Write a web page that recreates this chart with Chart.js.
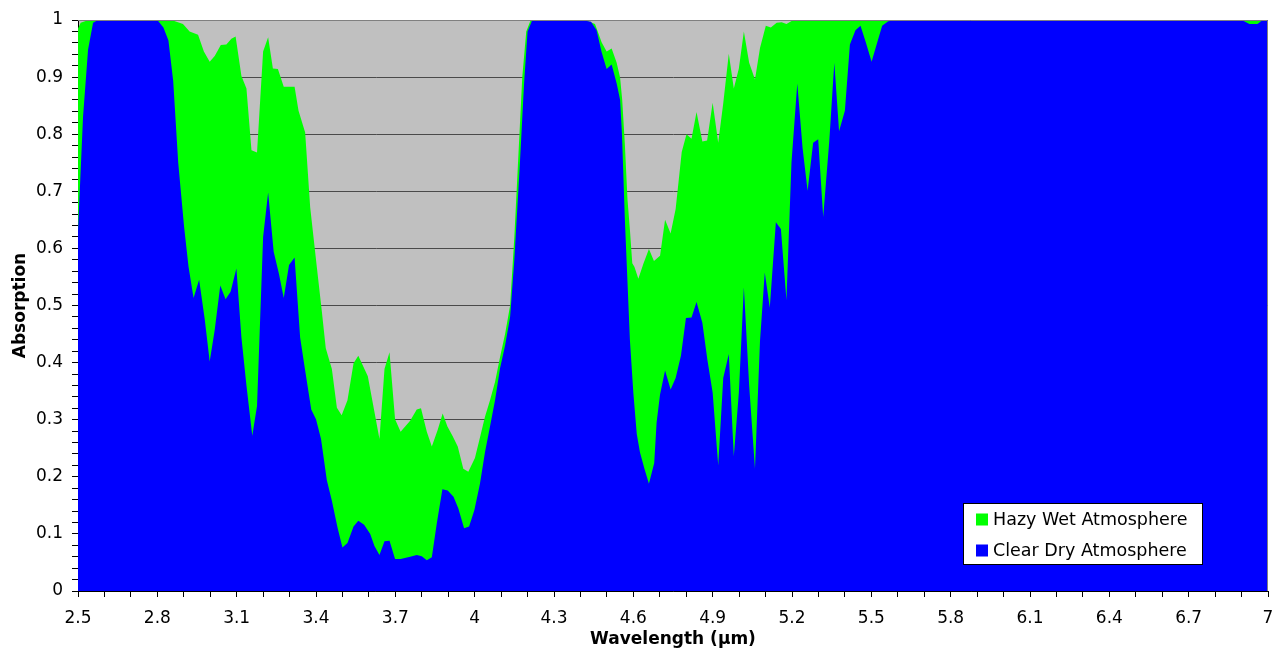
<!DOCTYPE html>
<html>
<head>
<meta charset="utf-8">
<script src="https://cdn.jsdelivr.net/npm/chart.js@4.4.1/dist/chart.umd.min.js"></script>
<style>
  html, body { margin: 0; padding: 0; background: #fff; }
  #wrap { width: 1275px; height: 651px; }
</style>
</head>
<body>
<div id="wrap"><canvas id="absChart" width="1275" height="651"></canvas></div>
<script>
// wavelength (um) / absorption
const hazyX = [2.5, 2.51, 2.54, 2.853, 2.897, 2.922, 2.954, 2.976, 2.998, 3.017, 3.040, 3.061, 3.080, 3.096,
  3.118, 3.137, 3.156, 3.177, 3.200, 3.219, 3.237, 3.256, 3.278, 3.319, 3.334, 3.359, 3.378, 3.403, 3.422,
  3.437, 3.460, 3.479, 3.497, 3.519, 3.542, 3.560, 3.596, 3.640, 3.659, 3.678, 3.699, 3.720, 3.756, 3.781,
  3.797, 3.819, 3.838, 3.860, 3.879, 3.897, 3.916, 3.936, 3.957, 3.976, 4.001, 4.020, 4.039, 4.058, 4.077,
  4.096, 4.115, 4.134, 4.150, 4.165, 4.180, 4.195, 4.212, 4.417, 4.455, 4.470, 4.480, 4.499, 4.518, 4.537,
  4.550, 4.558, 4.568, 4.578, 4.587, 4.596, 4.604, 4.619, 4.638, 4.659, 4.678, 4.701, 4.720, 4.741, 4.760,
  4.783, 4.801, 4.820, 4.839, 4.861, 4.879, 4.900, 4.921, 4.940, 4.961, 4.980, 4.999, 5.018, 5.038, 5.060,
  5.079, 5.101, 5.120, 5.142, 5.161, 5.179, 5.205, 7.0];
const hazyY = [0.985, 0.995, 1.0, 1.0, 0.993, 0.980, 0.974, 0.945, 0.927, 0.937, 0.956, 0.957, 0.967, 0.971,
  0.902, 0.880, 0.772, 0.768, 0.945, 0.970, 0.915, 0.914, 0.883, 0.883, 0.841, 0.803, 0.672, 0.568, 0.490,
  0.425, 0.389, 0.321, 0.308, 0.334, 0.399, 0.412, 0.376, 0.266, 0.389, 0.418, 0.301, 0.279, 0.298, 0.318,
  0.320, 0.279, 0.253, 0.282, 0.311, 0.288, 0.272, 0.253, 0.214, 0.209, 0.233, 0.269, 0.305, 0.334, 0.366,
  0.41, 0.45, 0.50, 0.62, 0.76, 0.90, 0.98, 1.0, 1.0, 0.993, 0.974, 0.961, 0.945, 0.950, 0.925,
  0.899, 0.860, 0.782, 0.685, 0.633, 0.574, 0.568, 0.547, 0.573, 0.599, 0.578, 0.587, 0.650, 0.626, 0.669,
  0.769, 0.800, 0.792, 0.839, 0.787, 0.789, 0.855, 0.785, 0.854, 0.941, 0.880, 0.915, 0.980, 0.925, 0.896,
  0.951, 0.990, 0.987, 0.995, 0.996, 0.993, 1.0, 1.0];

const clearX = [2.5, 2.519, 2.538, 2.557, 2.576, 2.800, 2.823, 2.842, 2.860, 2.879, 2.901, 2.918, 2.937, 2.958,
  2.979, 2.998, 3.017, 3.038, 3.058, 3.077, 3.099, 3.118, 3.137, 3.159, 3.177, 3.200, 3.219, 3.240, 3.260,
  3.278, 3.298, 3.319, 3.340, 3.359, 3.382, 3.400, 3.419, 3.441, 3.460, 3.482, 3.500, 3.519, 3.542, 3.560,
  3.582, 3.605, 3.621, 3.640, 3.659, 3.678, 3.699, 3.720, 3.756, 3.781, 3.800, 3.819, 3.838, 3.857, 3.878,
  3.898, 3.920, 3.938, 3.960, 3.979, 3.999, 4.020, 4.039, 4.058, 4.077, 4.096, 4.115, 4.134, 4.150, 4.170,
  4.187, 4.200, 4.218, 4.400, 4.440, 4.461, 4.480, 4.499, 4.518, 4.537, 4.550, 4.557, 4.568, 4.578, 4.587,
  4.600, 4.613, 4.625, 4.642, 4.659, 4.679, 4.688, 4.701, 4.720, 4.741, 4.760, 4.780, 4.799, 4.820, 4.839,
  4.861, 4.880, 4.900, 4.921, 4.940, 4.961, 4.980, 4.999, 5.018, 5.038, 5.060, 5.079, 5.097, 5.116, 5.139,
  5.158, 5.179, 5.198, 5.220, 5.240, 5.259, 5.280, 5.299, 5.318, 5.341, 5.360, 5.378, 5.400, 5.419, 5.440,
  5.459, 5.479, 5.501, 5.520, 5.541, 5.564, 5.608, 6.9, 6.93, 6.96, 6.98, 7.0];
const clearY = [0.63, 0.83, 0.948, 0.995, 1.0, 1.0, 0.987, 0.964, 0.893, 0.750, 0.639, 0.568, 0.513, 0.545,
  0.477, 0.402, 0.457, 0.535, 0.511, 0.524, 0.565, 0.444, 0.360, 0.272, 0.324, 0.620, 0.698, 0.594, 0.555,
  0.513, 0.571, 0.584, 0.444, 0.386, 0.318, 0.301, 0.266, 0.194, 0.158, 0.110, 0.076, 0.084, 0.113, 0.123,
  0.116, 0.100, 0.079, 0.063, 0.087, 0.088, 0.056, 0.056, 0.060, 0.063, 0.061, 0.054, 0.059, 0.119, 0.178,
  0.176, 0.165, 0.145, 0.110, 0.113, 0.142, 0.188, 0.243, 0.288, 0.334, 0.39, 0.43, 0.48, 0.58, 0.74,
  0.89, 0.98, 1.0, 1.0, 0.997, 0.982, 0.944, 0.914, 0.922, 0.889, 0.860, 0.80, 0.65, 0.54, 0.44,
  0.347, 0.275, 0.243, 0.214, 0.188, 0.224, 0.295, 0.344, 0.386, 0.353, 0.373, 0.412, 0.478, 0.479, 0.506,
  0.470, 0.405, 0.347, 0.220, 0.373, 0.415, 0.236, 0.347, 0.532, 0.360, 0.214, 0.438, 0.558, 0.496, 0.646,
  0.634, 0.509, 0.750, 0.889, 0.776, 0.701, 0.785, 0.791, 0.655, 0.788, 0.925, 0.805, 0.841, 0.957, 0.982,
  0.990, 0.961, 0.927, 0.957, 0.990, 0.998, 1.0, 1.0, 0.993, 0.993, 1.0, 1.0];

const seriesNames = ['Hazy Wet Atmosphere', 'Clear Dry Atmosphere'];
const xMin = 2.5, xMax = 7;

const toPoints = (xs, ys) => xs.map((x, i) => ({ x: x, y: ys[i] }));

// grey plot background + top/right border
const plotBg = {
    id: 'plotBg',
    beforeDraw(chart) {
        const { ctx, chartArea: a } = chart;
        ctx.save();
        ctx.fillStyle = '#C0C0C0';
        ctx.fillRect(a.left, a.top, a.right - a.left, a.bottom - a.top);
        ctx.restore();
    },
    afterDatasetsDraw(chart) {
        const { ctx, chartArea: a } = chart;
        ctx.save();
        ctx.strokeStyle = '#808080';
        ctx.lineWidth = 1;
        ctx.beginPath();
        ctx.moveTo(a.left, a.top + 0.5);
        ctx.lineTo(a.right - 0.5, a.top + 0.5);
        ctx.lineTo(a.right - 0.5, a.bottom);
        ctx.stroke();
        ctx.restore();
    }
};

// legend box inside the plot, bottom right
const boxLegend = {
    id: 'boxLegend',
    afterDraw(chart) {
        const { ctx, chartArea: a } = chart;
        const w = 240, h = 62;
        const x0 = Math.round(a.right - 65 - w), y0 = Math.round(a.bottom - 26 - h);
        ctx.save();
        ctx.fillStyle = '#fff';
        ctx.fillRect(x0, y0, w, h);
        ctx.strokeStyle = '#000';
        ctx.lineWidth = 1;
        ctx.strokeRect(x0 + 0.5, y0 + 0.5, w - 1, h - 1);
        ctx.font = '17.5px "DejaVu Sans"';
        ctx.textBaseline = 'middle';
        chart.data.datasets.forEach((ds, i) => {
            const cy = y0 + 16.5 + i * 31;
            ctx.fillStyle = ds.backgroundColor;
            ctx.fillRect(x0 + 13, cy - 6, 12, 12);
            ctx.fillStyle = '#000';
            ctx.fillText(ds.label, x0 + 30, cy + 1);
        });
        ctx.restore();
    }
};

const tickFont = { family: 'DejaVu Sans', size: 17 };
const titleFont = { family: 'DejaVu Sans', size: 17, weight: 'bold' };

new Chart(document.getElementById('absChart'), {
    type: 'line',
    data: {
        datasets: [{
            label: seriesNames[0],
            data: toPoints(hazyX, hazyY),
            backgroundColor: '#00FF00',
            borderColor: '#00FF00',
            borderWidth: 0,
            pointRadius: 0,
            fill: 'origin',
            order: 1
        }, {
            label: seriesNames[1],
            data: toPoints(clearX, clearY),
            backgroundColor: '#0000FF',
            borderColor: '#0000FF',
            borderWidth: 0,
            pointRadius: 0,
            fill: 'origin',
            order: 0
        }]
    },
    options: {
        responsive: false,
        animation: false,
        layout: { padding: { top: 20, right: 7, left: 0, bottom: 0 } },
        plugins: { legend: { display: false }, tooltip: { enabled: false } },
        scales: {
            x: {
                type: 'linear',
                min: xMin,
                max: xMax,
                border: { color: '#000', width: 1 },
                grid: { drawOnChartArea: false, drawTicks: true, tickLength: 6, tickColor: '#000' },
                ticks: {
                    stepSize: 0.1,
                    maxTicksLimit: 100,
                    autoSkip: false,
                    maxRotation: 0,
                    padding: 11,
                    color: '#000',
                    font: tickFont,
                    callback: (v) => {
                        const k = Math.round((v - xMin) * 10);
                        return k % 3 === 0 ? String(Math.round(v * 10) / 10) : '';
                    }
                },
                title: { display: true, text: 'Wavelength (µm)', color: '#000', font: titleFont, padding: { top: 0, bottom: 1 } },
                afterFit: (s) => { s.height = 60; s.paddingLeft = 0; s.paddingRight = 0; }
            },
            y: {
                min: 0,
                max: 1,
                border: { color: '#000', width: 1 },
                grid: {
                    color: (c) => {
                        const k = Math.round(c.tick.value * 100);
                        if (k === 100) return '#808080';
                        return k % 10 === 0 ? '#4a4a4a' : 'rgba(0,0,0,0)';
                    },
                    tickColor: '#000',
                    tickLength: 6
                },
                ticks: {
                    stepSize: 0.02,
                    maxTicksLimit: 100,
                    autoSkip: false,
                    padding: 9,
                    color: '#000',
                    font: tickFont,
                    callback: (v) => Math.round(v * 100) % 10 === 0 ? String(Math.round(v * 10) / 10) : ''
                },
                title: { display: true, text: 'Absorption', color: '#000', font: titleFont, padding: { top: 10, bottom: 0 } },
                afterFit: (s) => { s.width = 78; s.paddingTop = 0; s.paddingBottom = 0; }
            }
        }
    },
    plugins: [plotBg, boxLegend]
});
</script>
</body>
</html>
